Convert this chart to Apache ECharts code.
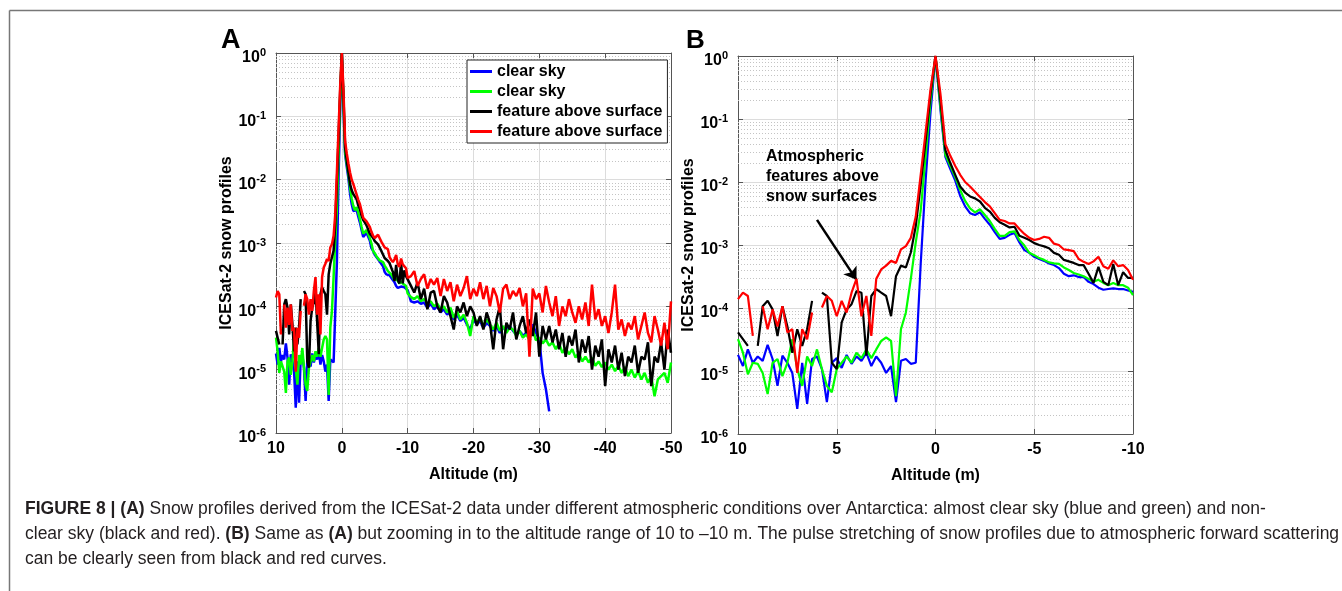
<!DOCTYPE html>
<html>
<head>
<meta charset="utf-8">
<script src="https://cdn.jsdelivr.net/npm/echarts@6/dist/echarts.min.js"></script>
<style>
  html, body { margin: 0; padding: 0; background: #fff; }
  #chart { width: 1342px; height: 591px; }
</style>
</head>
<body>
<div id="chart"></div>
<script>
// altitude (m) of the zoomed profile samples, shared by panel A and B
const altB = [
  10, 9.75, 9.5, 9.25, 9, 8.75, 8.5, 8.25, 8, 7.75, 7.5, 7.25, 7, 6.75, 6.5, 6.25, 6, 5.75, 5.5, 5.25,
  5, 4.75, 4.5, 4.25, 4, 3.75, 3.5, 3.25, 3, 2.75, 2.5, 2.25, 2, 1.75, 1.5, 1.25, 1, 0.75, 0.5, 0.25,
  0, -0.25, -0.5, -0.75, -1, -1.25, -1.5, -1.75, -2, -2.25, -2.5, -2.75, -3, -3.25, -3.5, -3.75, -4,
  -4.25, -4.5, -4.75, -5, -5.25, -5.5, -5.75, -6, -6.25, -6.5, -6.75, -7, -7.25, -7.5, -7.75, -8,
  -8.25, -8.5, -8.75, -9, -9.25, -9.5, -9.75, -10
]

const blueB = [
  1.8e-5, 1.2e-5, 2.2e-5, 1.35e-5, 1.7e-5, 1.45e-5, 2.6e-5, 1.55e-5, 5.8e-6, 1.75e-5,
  1.35e-5, 9.3e-6, 2.5e-6, 1.35e-5, 3e-6, 1.55e-5, 1.7e-5, 1.07e-5, 3.2e-6, 1.35e-5,
  1.6e-5, 1.12e-5, 1.8e-5, 1.3e-5, 1.7e-5, 1.45e-5, 1.95e-5, 1.2e-5, 1.7e-5, 1.35e-5,
  9.3e-6, 1.2e-5, 3.2e-6, 1.45e-5, 1.55e-5, 1.3e-5, 1.35e-5, 5e-4, 0.0107, 0.13,
  1,
  0.14, 0.025, 0.016, 0.0105, 6e-3, 4.1e-3, 3.2e-3, 3.0e-3, 3.3e-3, 2.6e-3,
  2.1e-3, 1.6e-3, 1.25e-3, 1.3e-3, 1.45e-3, 1.55e-3, 1.1e-3, 8.3e-4, 7.5e-4, 6.5e-4,
  6e-4, 5.6e-4, 5.1e-4, 4.8e-4, 4.3e-4, 3.5e-4, 3.2e-4, 3.3e-4, 3.1e-4, 3.1e-4,
  2.6e-4, 2.4e-4, 2.1e-4, 1.95e-4, 2e-4, 2.05e-4, 2e-4, 2e-4, 1.9e-4, 1.8e-4
]

const greenB = [
  3.2e-5, 1.95e-5, 8.9e-6, 1.35e-5, 1.3e-5, 9.3e-6, 4.3e-6, 1.35e-5, 1.55e-5, 8.3e-6,
  1.35e-5, 3.2e-5, 1.07e-5, 5.8e-6, 1.7e-5, 1.2e-5, 2.2e-5, 1.07e-5, 5.8e-6, 4.6e-6,
  1.07e-5, 1.35e-5, 1.7e-5, 1.35e-5, 1.95e-5, 1.6e-5, 2.2e-5, 1.6e-5, 2.2e-5, 3e-5,
  3.4e-5, 3e-5, 4e-6, 4.6e-5, 8.5e-5, 2.9e-4, 1.1e-3, 3.5e-3, 0.026, 0.195,
  1,
  0.16, 0.027, 0.018, 0.012, 7.5e-3, 5e-3, 3.8e-3, 3.3e-3, 3.7e-3, 3.0e-3,
  2.4e-3, 1.8e-3, 1.4e-3, 1.4e-3, 1.6e-3, 1.65e-3, 1.2e-3, 9.8e-4, 7.5e-4, 6.9e-4,
  6.2e-4, 5.8e-4, 5.3e-4, 5.1e-4, 5.0e-4, 4.4e-4, 4.0e-4, 3.6e-4, 3.4e-4, 3.2e-4,
  2.9e-4, 2.6e-4, 2.8e-4, 2.5e-4, 2.3e-4, 2.5e-4, 2.3e-4, 2.3e-4, 2.1e-4, 1.6e-4
]

const blackB = [
  4.1e-5, 3.2e-5, 2.5e-5, null, 2.5e-5, 1.07e-4, 1.3e-4, 9.5e-5, 3.6e-5, 1.07e-4,
  5.1e-5, 1.95e-5, 4.6e-5, 2.5e-5, 4.6e-5, 1.3e-4, null, 1.75e-4, 1.55e-4, 1.35e-5,
  1.07e-5, 5.9e-5, 9.5e-5, 1.15e-4, 1.85e-4, 1.75e-4, 1.75e-5, 1.55e-4, 2e-4, 1.75e-4,
  1.55e-4, 7.4e-5, 3.2e-4, 4.7e-4, 4.4e-4, 7.6e-4, 2e-3, 9e-3, 0.045, 0.25,
  1,
  0.2, 0.032, 0.02, 0.013, 8.5e-3, 6.8e-3, 5.9e-3, 5.5e-3, 4.9e-3, 3.9e-3,
  3.4e-3, 2.7e-3, 2.3e-3, 2.1e-3, 1.9e-3, 1.95e-3, 1.4e-3, 1.3e-3, 1.2e-3, 1.07e-3,
  1e-3, 9.5e-4, 8.9e-4, 7.5e-4, 7e-4, 5.8e-4, 5.5e-4, 5.2e-4, 4.8e-4, 4.8e-4,
  3.5e-4, 2.5e-4, 4.5e-4, 2.6e-4, 2.3e-4, 5e-4, 2.3e-4, 3.7e-4, 3e-4, 3e-4
]

const redB = [
  1.38e-4, 1.75e-4, 1.55e-4, 3.6e-5, null, 1.07e-4, 4.6e-5, 9.5e-5, 5.1e-5, 1.07e-4,
  4.1e-5, 4.6e-5, 9.3e-6, 4.6e-5, 3.2e-5, 8.5e-5, null, 1.02e-4, 1.55e-4, 1.3e-4,
  7.4e-5, 1.3e-4, 8.5e-5, 1.75e-4, 2.9e-4, 7.4e-5, 1.55e-4, 3.6e-5, 2.9e-4, 4.1e-4,
  4.7e-4, 5.6e-4, 5.2e-4, 8.5e-4, 9.6e-4, 1.3e-3, 2.8e-3, 0.013, 0.062, 0.3,
  1,
  0.25, 0.04, 0.026, 0.018, 0.013, 0.01, 8.5e-3, 7e-3, 5.8e-3, 4.8e-3,
  4.1e-3, 3.2e-3, 2.5e-3, 2.4e-3, 2.2e-3, 2.2e-3, 1.8e-3, 1.5e-3, 1.3e-3, 1.2e-3,
  1.25e-3, 1.35e-3, 1.3e-3, 1.05e-3, 1e-3, 8.5e-4, 8.3e-4, 8e-4, 6e-4, 5.4e-4,
  5e-4, 5.5e-4, 6.5e-4, 4.6e-4, 4.2e-4, 5.7e-4, 4.6e-4, 4.8e-4, 4e-4, 2.8e-4
]

// deeper part of the profiles, only shown in panel A
const altTail = [
  -10.5, -11, -11.5, -12, -12.5, -13, -13.5, -14, -14.5, -15,
  -15.5, -16, -16.5, -17, -17.5, -18, -18.5, -19, -19.5, -20,
  -20.5, -21, -21.5, -22, -22.5, -23, -23.5, -24, -24.5, -25,
  -25.5, -26, -26.5, -27, -27.5, -28, -28.5, -29, -29.5, -30,
  -30.5, -31, -31.5, -32, -32.5, -33, -33.5, -34, -34.5, -35,
  -35.5, -36, -36.5, -37, -37.5, -38, -38.5, -39, -39.5, -40,
  -40.5, -41, -41.5, -42, -42.5, -43, -43.5, -44, -44.5, -45,
  -45.5, -46, -46.5, -47, -47.5, -48, -48.5, -49, -49.5, -50
]

const blueTail = [
  1.2e-4, 1.15e-4, 1.2e-4, 1.1e-4, 1.15e-4, 9.5e-5, 1.1e-4, 9e-5, 1e-4, 8e-5,
  9e-5, 7.4e-5, 8.4e-5, 6.2e-5, 7.4e-5, 5.9e-5, 6.6e-5, 5.2e-5, 4.3e-5, 6.2e-5,
  5.2e-5, 5.9e-5, 4.6e-5, 5.5e-5, 4.9e-5, 4.1e-5, 4.9e-5, 3.8e-5, 4.6e-5, 4.3e-5,
  4.9e-5, 4.1e-5, 3.6e-5, 4.1e-5, 3.4e-5, 3.8e-5, 3.6e-5, 5.2e-5, 3.8e-5, 3e-5,
  8.9e-6, 4.9e-6, 2.2e-6
]

const greenTail = [
  1.4e-4, 1.3e-4, 1.45e-4, 1.2e-4, 1.3e-4, 1.1e-4, 1.2e-4, 1e-4, 1.1e-4, 9e-5,
  1e-4, 8e-5, 9.5e-5, 6.6e-5, 8.4e-5, 6.2e-5, 7.4e-5, 5.5e-5, 3.4e-5, 7e-5,
  5.5e-5, 6.6e-5, 4.9e-5, 6.2e-5, 5.2e-5, 4.3e-5, 5.5e-5, 4.1e-5, 4.9e-5, 3.8e-5,
  4.6e-5, 4.3e-5, 3.4e-5, 4.1e-5, 3.2e-5, 3.6e-5, 3e-5, 4.3e-5, 2.9e-5, 3.2e-5,
  2.6e-5, 3e-5, 2.4e-5, 2.7e-5, 2.1e-5, 2.6e-5, 1.85e-5, 2.2e-5, 1.75e-5, 2.1e-5,
  1.55e-5, 1.85e-5, 1.35e-5, 1.6e-5, 1.3e-5, 1.55e-5, 1.15e-5, 1.35e-5, 1.1e-5, 1.3e-5,
  1e-5, 1.2e-5, 9.5e-6, 1.15e-5, 8.9e-6, 1.1e-5, 7.9e-6, 1e-5, 7.5e-6, 9.5e-6,
  7e-6, 8.9e-6, 6.2e-6, 7.9e-6, 3.8e-6, 7e-6, 7.9e-6, 8.9e-6, 6.2e-6, 1.3e-5
]

const blackTail = [
  2.1e-4, 1.65e-4, 2.4e-4, 1.3e-4, 1.9e-4, 9e-5, 1.65e-4, 1.75e-4, 1e-4, 8e-5,
  1.45e-4, 1.15e-4, 7e-5, 4.3e-5, 1e-4, 8e-5, 1.15e-4, 7e-5, 1e-4, 8e-5,
  4.9e-5, 7e-5, 4.3e-5, 8e-5, 5.5e-5, 2.1e-5, 6.2e-5, 1e-4, 2.1e-5, 5.5e-5,
  4.3e-5, 8e-5, 3e-5, 4.9e-5, 7e-5, 3.8e-5, 6.2e-5, 3.4e-5, 8e-5, 1.6e-5,
  4.9e-5, 3e-5, 4.9e-5, 2.7e-5, 4.3e-5, 2.1e-5, 3.8e-5, 1.6e-5, 3.4e-5, 2.4e-5,
  4.3e-5, 1.3e-5, 3e-5, 1.85e-5, 3.4e-5, 1e-5, 2.4e-5, 1.6e-5, 3e-5, 5.5e-6,
  2.1e-5, 1.3e-5, 2.4e-5, 1e-5, 1.85e-5, 7.9e-6, 1.6e-5, 1.3e-5, 2.4e-5, 8.9e-6,
  1.6e-5, 1.45e-5, 2.7e-5, 5.5e-6, 1.6e-5, 1.3e-5, 2.7e-5, 1e-5, 4.3e-5, 1.85e-5
]

const redTail = [
  3e-4, 3.6e-4, 2.1e-4, 2.7e-4, 3.2e-4, 1.9e-4, 2.7e-4, 2.2e-4, 2.8e-4, 1.45e-4,
  2.7e-4, 1.75e-4, 2.4e-4, 1.2e-4, 2.2e-4, 1.45e-4, 1.95e-4, 3e-4, 1.3e-4, 1.9e-4,
  1.45e-4, 2.4e-4, 1.3e-4, 2.1e-4, 1e-4, 1.95e-4, 1.45e-4, 8e-5, 1.9e-4, 2.2e-4,
  1.3e-4, 1.75e-4, 1.45e-4, 1.95e-4, 1e-4, 1.6e-4, 1.6e-5, 1.9e-4, 1.3e-4, 1.6e-4,
  8e-5, 2.1e-4, 1.15e-4, 7e-5, 1.45e-4, 4.9e-5, 1e-4, 7e-5, 1.3e-4, 8e-5,
  5.5e-5, 1e-4, 6.2e-5, 1.15e-4, 4.9e-5, 2.2e-4, 6.2e-5, 9e-5, 4.9e-5, 7e-5,
  3.8e-5, 8e-5, 2.2e-4, 4.3e-5, 6.2e-5, 3.4e-5, 5.5e-5, 4.3e-5, 7e-5, 3e-5,
  4.9e-5, 8e-5, 3.8e-5, 2.7e-5, 7e-5, 4.3e-5, 2.4e-5, 5.5e-5, 2.1e-5, 1.2e-4
]

// legend names (trailing space keeps the two duplicates apart)
const seriesNames = ['clear sky', 'clear sky ', 'feature above surface', 'feature above surface ']
const seriesColors = ['#0000ff', '#00ff00', '#000000', '#ff0000']

const FONT = 'Liberation Sans, Arial, sans-serif'

const pairs = (xs, ys) => ys.map((y, i) => [xs[i], y])

// dotted minor grid at 2..9 x 10^n
const minorLevels = []
for (let n = -6; n < 0; n++) {
  for (let k = 2; k <= 9; k++) minorLevels.push(k * Math.pow(10, n))
}

const frameColor = '#555'

function xMain(gi, min, interval) {
  return {
    gridIndex: gi, type: 'value', min: min, max: 10, interval: interval, inverse: true,
    position: 'bottom',
    name: 'Altitude (m)', nameLocation: 'middle', nameGap: 34,
    nameTextStyle: { fontSize: 16, fontWeight: 'bold', color: '#000', fontFamily: FONT },
    axisLine: { show: true, onZero: false, lineStyle: { color: frameColor, width: 1 } },
    axisTick: { show: true, inside: true, length: 5, lineStyle: { color: frameColor } },
    axisLabel: { fontSize: 16, fontWeight: 'bold', color: '#000', fontFamily: FONT, margin: 8 },
    splitLine: { show: true, lineStyle: { color: '#dcdcdc', width: 1 } }
  }
}

function xTop(gi, min, interval) {
  return {
    gridIndex: gi, type: 'value', min: min, max: 10, interval: interval, inverse: true,
    position: 'top',
    axisLine: { show: true, onZero: false, lineStyle: { color: frameColor, width: 1 } },
    axisTick: { show: true, inside: true, length: 5, lineStyle: { color: frameColor } },
    axisLabel: { show: false },
    splitLine: { show: false }
  }
}

function yMain(gi) {
  return {
    gridIndex: gi, type: 'log', logBase: 10, min: 1e-6, max: 1, interval: 1, position: 'left',
    name: 'ICESat-2 snow profiles', nameLocation: 'middle', nameGap: 39,
    nameTextStyle: { fontSize: 16, fontWeight: 'bold', color: '#000', fontFamily: FONT },
    axisLine: { show: true, onZero: false, lineStyle: { color: frameColor, width: 1 } },
    axisTick: { show: true, inside: true, length: 5, lineStyle: { color: frameColor } },
    axisLabel: {
      margin: 10,
      padding: [10, 0, 0, 0],
      formatter: v => '{base|10}{sup|' + Math.round(Math.log10(v)) + '}',
      rich: {
        base: { fontSize: 16, fontWeight: 'bold', color: '#000', fontFamily: FONT, lineHeight: 22 },
        sup: { fontSize: 11, fontWeight: 'bold', color: '#000', fontFamily: FONT, lineHeight: 12, verticalAlign: 'top' }
      }
    },
    splitLine: { show: true, lineStyle: { color: '#dcdcdc', width: 1 } }
  }
}

function yRight(gi) {
  return {
    gridIndex: gi, type: 'log', logBase: 10, min: 1e-6, max: 1, interval: 1, position: 'right',
    axisLine: { show: true, onZero: false, lineStyle: { color: frameColor, width: 1 } },
    axisTick: { show: true, inside: true, length: 5, lineStyle: { color: frameColor } },
    axisLabel: { show: false },
    splitLine: { show: false }
  }
}

// horizontal dotted lines across the plot at each minor log level
function minorGrid(axisIndex) {
  return {
    type: 'custom', xAxisIndex: axisIndex, yAxisIndex: axisIndex, silent: true, z: 1,
    data: minorLevels.map(v => [10, v]),
    renderItem: (params, api) => {
      const cs = params.coordSys
      const y = Math.round(api.coord([api.value(0), api.value(1)])[1]) + 0.5
      return {
        type: 'line',
        shape: { x1: cs.x, y1: y, x2: cs.x + cs.width, y2: y },
        style: { stroke: '#c4c4c4', lineWidth: 1, lineDash: [1, 2] }
      }
    }
  }
}

function profile(axisIndex, idx, data, width) {
  return {
    type: 'line', name: seriesNames[idx], xAxisIndex: axisIndex, yAxisIndex: axisIndex,
    data: data, showSymbol: false, symbol: 'none', connectNulls: false, z: 3 + idx,
    color: seriesColors[idx],
    lineStyle: { width: width, color: seriesColors[idx] }
  }
}

const panelA = [
  pairs(altB, blueB).concat(pairs(altTail, blueTail)),
  pairs(altB, greenB).concat(pairs(altTail, greenTail)),
  pairs(altB, blackB).concat(pairs(altTail, blackTail)),
  pairs(altB, redB).concat(pairs(altTail, redTail))
]
const panelB = [pairs(altB, blueB), pairs(altB, greenB), pairs(altB, blackB), pairs(altB, redB)]

const captionLines = [
  '{b|FIGURE 8 | (A)} Snow profiles derived from the ICESat-2 data under different atmospheric conditions over Antarctica: almost clear sky (blue and green) and non-',
  'clear sky (black and red). {b|(B)} Same as {b|(A)} but zooming in to the altitude range of 10 to \u201310 m. The pulse stretching of snow profiles due to atmospheric forward scattering',
  'can be clearly seen from black and red curves.'
]

const chart = echarts.init(document.getElementById('chart'), null, { renderer: 'canvas' })

chart.setOption({
  animation: false,
  backgroundColor: '#fff',
  grid: [
    { left: 276, top: 53, width: 395, height: 380 },
    { left: 738, top: 56, width: 395, height: 378 }
  ],
  legend: {
    data: seriesNames,
    formatter: n => n.trim(),
    orient: 'vertical', left: 467, top: 60, z: 20,
    icon: 'rect', itemWidth: 22, itemHeight: 3, itemGap: 3,
    padding: [3, 5, 3, 3],
    borderColor: '#222', borderWidth: 1, backgroundColor: '#fff',
    selectedMode: false,
    textStyle: { fontSize: 16, fontWeight: 'bold', color: '#000', fontFamily: FONT, lineHeight: 17 }
  },
  xAxis: [xMain(0, -50, 10), xTop(0, -50, 10), xMain(1, -10, 5), xTop(1, -10, 5)],
  yAxis: [yMain(0), yRight(0), yMain(1), yRight(1)],
  series: [
    minorGrid(0),
    ...panelA.map((d, i) => profile(0, i, d, 2.5)),
    minorGrid(2),
    ...panelB.map((d, i) => profile(2, i, d, 2.2)),
    {
      // arrow pointing at the atmospheric features
      type: 'line', xAxisIndex: 2, yAxisIndex: 2, data: [], silent: true, z: 10,
      markLine: {
        silent: true, animation: false,
        symbol: ['none', 'arrow'], symbolSize: 12,
        label: { show: false },
        lineStyle: { type: 'solid', color: '#000', width: 2.5 },
        data: [[{ coord: [6.0, 2.5e-3] }, { coord: [4.0, 2.8e-4] }]]
      }
    }
  ],
  graphic: [
    { type: 'line', shape: { x1: 9.5, y1: 10.5, x2: 1342, y2: 10.5 }, style: { stroke: '#777', lineWidth: 1.5 } },
    { type: 'line', shape: { x1: 9.5, y1: 10.5, x2: 9.5, y2: 591 }, style: { stroke: '#777', lineWidth: 1.5 } },
    { type: 'text', left: 221, top: 27, style: { text: 'A', fontSize: 27, fontWeight: 'bold', fill: '#000', fontFamily: FONT } },
    { type: 'text', left: 686, top: 28, style: { text: 'B', fontSize: 26, fontWeight: 'bold', fill: '#000', fontFamily: FONT } },
    {
      type: 'text', left: 766, top: 147, z: 20,
      style: {
        text: 'Atmospheric\nfeatures above\nsnow surfaces',
        fontSize: 16, fontWeight: 'bold', fill: '#000', fontFamily: FONT, lineHeight: 20
      }
    },
    {
      type: 'text', left: 25, top: 497,
      style: {
        text: captionLines.join('\n'),
        fontSize: 17.5, fill: '#231f20', fontFamily: FONT, lineHeight: 25,
        rich: {
          b: { fontSize: 17.5, fontWeight: 'bold', fill: '#231f20', fontFamily: FONT, lineHeight: 25 }
        }
      }
    }
  ]
})
</script>
</body>
</html>
